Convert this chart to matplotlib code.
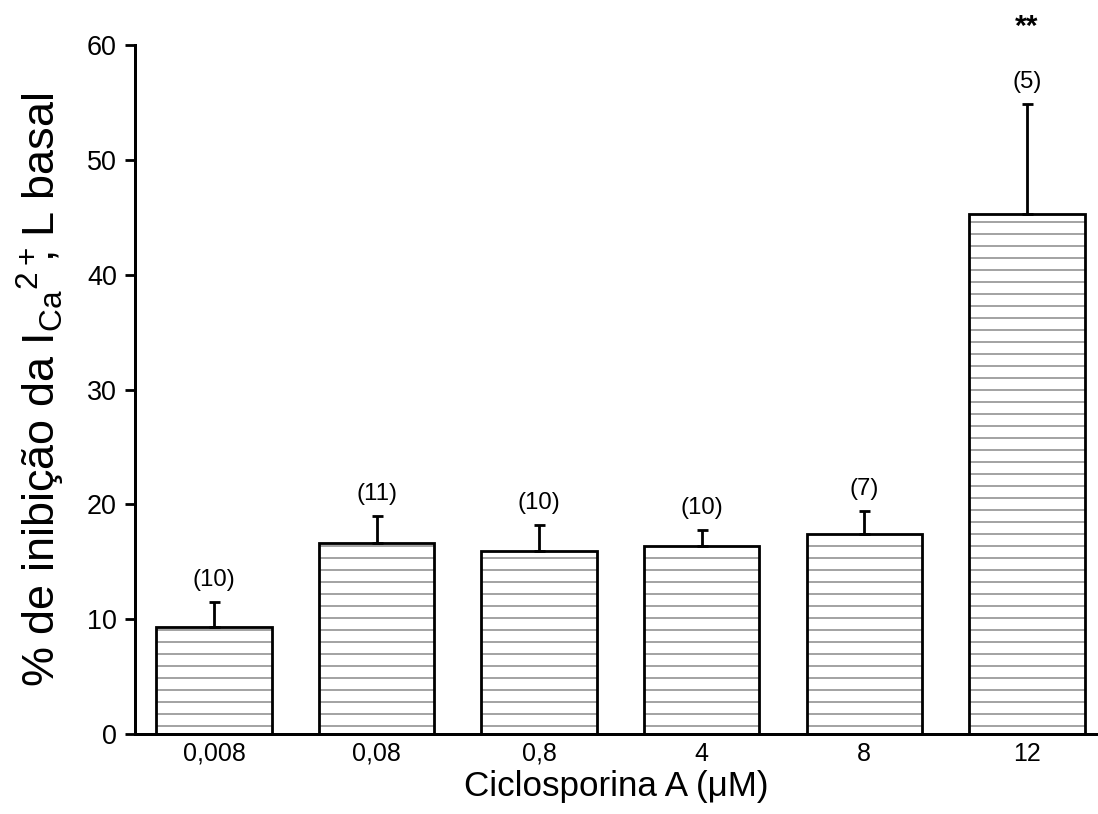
import numpy as np
import matplotlib
matplotlib.use('Agg')
import matplotlib.pyplot as plt

# Dados: % de inibição por concentração de ciclosporina A
concentracoes = ['0,008', '0,08', '0,8', '4', '8', '12']
inibicao = [9.3, 16.6, 15.9, 16.4, 17.4, 45.3]
erro = [2.2, 2.4, 2.3, 1.4, 2.0, 9.6]
n_celulas = ['(10)', '(11)', '(10)', '(10)', '(7)', '(5)']
signif = ['', '', '', '', '', '**']

plt.rcParams['font.family'] = ['Liberation Sans', 'DejaVu Sans']
plt.rcParams['mathtext.default'] = 'regular'
plt.rcParams['hatch.linewidth'] = 1.3

fig = plt.figure(figsize=(1098 / 72, 814 / 72), dpi=72)
ax = fig.add_axes([135 / 1098, 1 - 734 / 814, 1 - 135 / 1098, (734 - 45) / 814])

x = np.arange(len(concentracoes))
w = 0.71
# hatch fill (grey lines), then black outline on top
ax.bar(x, inibicao, w, color='white', edgecolor='0.45', linewidth=0, hatch='-')
ax.bar(x, inibicao, w, fill=False, edgecolor='black', linewidth=2.8)
ax.errorbar(x, inibicao, yerr=[np.zeros(len(erro)), erro], fmt='none',
            ecolor='black', elinewidth=2.8, capsize=5.5, capthick=2.8)

for xi, yi, ei, lab, s in zip(x, inibicao, erro, n_celulas, signif):
    ax.annotate(lab, (xi, yi + ei), xytext=(0, 11), textcoords='offset points',
                ha='center', va='bottom', fontsize=24)
    if s:
        ax.annotate(s, (xi, yi + ei), xytext=(0, 69), textcoords='offset points',
                    ha='center', va='baseline', fontsize=30, fontweight='bold',
                    annotation_clip=False)

ax.set_xlim(-0.486, 5.437)
ax.set_ylim(0, 60)
ax.set_yticks([0, 10, 20, 30, 40, 50, 60])
ax.set_xticks(x)
ax.set_xticklabels(concentracoes)
ax.tick_params(axis='y', labelsize=27, width=2.8, length=10, pad=8)
ax.tick_params(axis='x', labelsize=25, length=0, pad=8)
for side in ['top', 'right']:
    ax.spines[side].set_visible(False)
for side in ['left', 'bottom']:
    ax.spines[side].set_linewidth(3)

ax.set_xlabel('Ciclosporina A (\u03bcM)', fontsize=35, labelpad=4)
ax.set_ylabel(r'% de inibição da I$_{Ca}{}^{2+}\!\!\!$, L basal', fontsize=45, labelpad=20)

fig.savefig('out.png', dpi=72)
